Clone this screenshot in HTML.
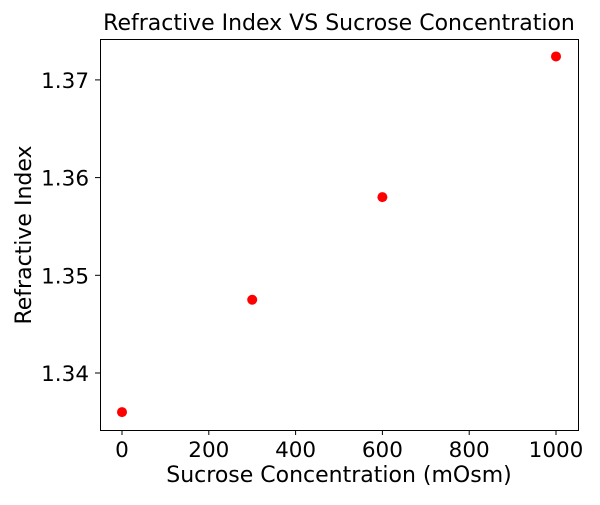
<!DOCTYPE html>
<html><head><meta charset="utf-8"><style>
body{margin:0;background:#fff;}
svg text{font-family:"DejaVu Sans","Liberation Sans",sans-serif;fill:#000;}
</style></head><body>
<svg id="chart" width="600" height="500">
<text x="339" y="30" font-size="22" text-anchor="middle">Refractive Index VS Sucrose Concentration</text>
<text x="339" y="482" font-size="22" text-anchor="middle">Sucrose Concentration (mOsm)</text>
<text transform="translate(31,235) rotate(-90)" font-size="22" text-anchor="middle">Refractive Index</text>
<g id="ticks"></g>
<g id="points"></g>
<rect x="100.5" y="39.5" width="478" height="391" fill="none" stroke="#000" stroke-width="1"/>
</svg>
<script>
const concentrations = [0, 300, 600, 1000];
const refractiveIdx = [1.336, 1.3475, 1.358, 1.3724];
const xTicks = [0, 200, 400, 600, 800, 1000];
const yTicks = [1.34, 1.35, 1.36, 1.37];
const NS = "http://www.w3.org/2000/svg";
function xs(v){return 122 + v*0.434;}
function ys(v){return 373 - (v-1.34)*9770;}
const tg = document.getElementById('ticks');
xTicks.forEach(t=>{
  const l=document.createElementNS(NS,'line');
  l.setAttribute('x1',xs(t));l.setAttribute('x2',xs(t));l.setAttribute('y1',430);l.setAttribute('y2',435);l.setAttribute('stroke','#000');
  
  
  tg.appendChild(l);
  const tx=document.createElementNS(NS,'text');
  tx.setAttribute('x',xs(t));tx.setAttribute('y',457);tx.setAttribute('font-size','21.5');tx.setAttribute('text-anchor','middle');
  tx.textContent=t;
  
  
  tg.appendChild(tx);
});
yTicks.forEach(t=>{
  const l=document.createElementNS(NS,'line');
  l.setAttribute('x1',95);l.setAttribute('x2',100);l.setAttribute('y1',ys(t));l.setAttribute('y2',ys(t));l.setAttribute('stroke','#000');
  
  
  tg.appendChild(l);
  const tx=document.createElementNS(NS,'text');
  tx.setAttribute('x',89);tx.setAttribute('y',ys(t)+8);tx.setAttribute('font-size','21.5');tx.setAttribute('text-anchor','end');
  tx.textContent=t.toFixed(2);
  
  
  tg.appendChild(tx);
});
const pg=document.getElementById('points');
concentrations.forEach((c,i)=>{
  const p=document.createElementNS(NS,'circle');
  p.setAttribute('cx',xs(c));p.setAttribute('cy',ys(refractiveIdx[i]));p.setAttribute('r',5);p.setAttribute('fill','#ff0000');
  
  
  pg.appendChild(p);
});
</script>
</body></html>
